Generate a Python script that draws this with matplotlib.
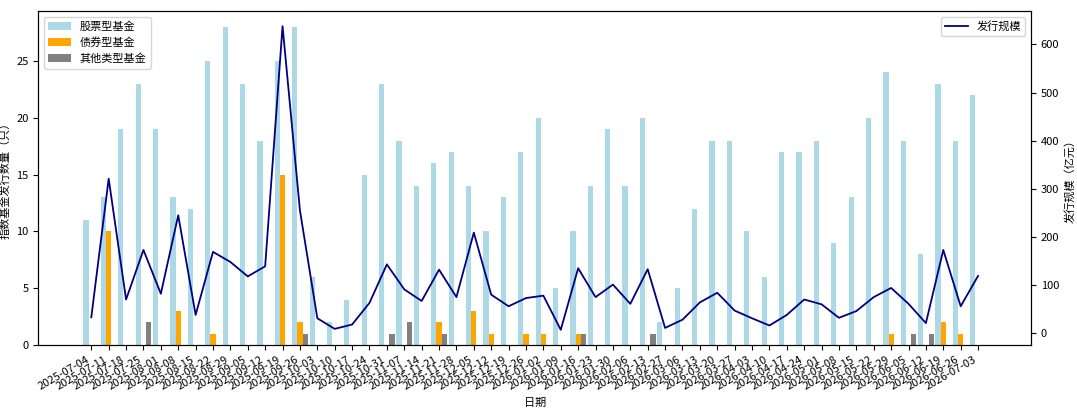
import numpy as np
import pandas as pd
import matplotlib
matplotlib.use('Agg')
import matplotlib.pyplot as plt

plt.rcParams['font.family'] = ['Noto Sans CJK SC', 'DejaVu Sans']
plt.rcParams['axes.unicode_minus'] = False

# 每周日期（2026-02-20 春节周无数据）
dates = [d.strftime('%Y-%m-%d') for d in pd.date_range('2025-07-04', '2026-07-03', freq='7D')
         if d.strftime('%Y-%m-%d') != '2026-02-20']

stock = [11, 13, 19, 23, 19, 13, 12, 25, 28, 23, 18, 25, 28, 6, 2, 4, 15, 23, 18, 14,
         16, 17, 14, 10, 13, 17, 20, 5, 10, 14, 19, 14, 20, 2, 5, 12, 18, 18, 10, 6,
         17, 17, 18, 9, 13, 20, 24, 18, 8, 23, 18, 22]
bond = [0, 10, 0, 0, 0, 3, 0, 1, 0, 0, 0, 15, 2, 0, 0, 0, 0, 0, 0, 0,
        2, 0, 3, 1, 0, 1, 1, 0, 1, 0, 0, 0, 0, 0, 0, 0, 0, 0, 0, 0,
        0, 0, 0, 0, 0, 0, 1, 0, 0, 2, 1, 0]
other = [0, 0, 0, 2, 0, 0, 0, 0, 0, 0, 0, 0, 1, 0, 0, 0, 0, 1, 2, 0,
         1, 0, 0, 0, 0, 0, 0, 0, 1, 0, 0, 0, 1, 0, 0, 0, 0, 0, 0, 0,
         0, 0, 0, 0, 0, 0, 0, 1, 1, 0, 0, 0]
scale = [33, 321, 70, 173, 82, 245, 38, 169, 148, 118, 139, 638, 255, 31, 9, 18, 63, 143, 91, 67,
         132, 75, 209, 80, 56, 73, 78, 7, 135, 75, 101, 61, 133, 11, 28, 64, 84, 47, 31, 16,
         38, 70, 60, 32, 46, 75, 94, 61, 21, 173, 56, 119]

x = np.arange(len(dates))
w = 0.3

fig = plt.figure(figsize=(10.77, 4.12), dpi=100)
ax = fig.add_axes([0.0356, 0.1626, 0.9217, 0.8107])

ax.bar(x - w, stock, width=w, color='lightblue', label='股票型基金')
ax.bar(x, bond, width=w, color='orange', label='债券型基金')
ax.bar(x + w, other, width=w, color='gray', label='其他类型基金')
ax.set_ylabel('指数基金发行数量（只）', fontsize=8)
ax.set_xlabel('日期', fontsize=8)
ax.set_xticks(x)
ax.set_xticklabels(dates, rotation=30, ha='right', fontsize=8)
ax.tick_params(axis='y', labelsize=8)
ax.legend(loc='upper left', fontsize=8)

ax2 = ax.twinx()
ax2.plot(x, scale, color='navy', linewidth=1.3, label='发行规模')
ax2.set_ylabel('发行规模（亿元）', fontsize=8)
ax2.tick_params(axis='y', labelsize=8)
ax2.legend(loc='upper right', fontsize=8)

fig.savefig('out.png', dpi=100)
